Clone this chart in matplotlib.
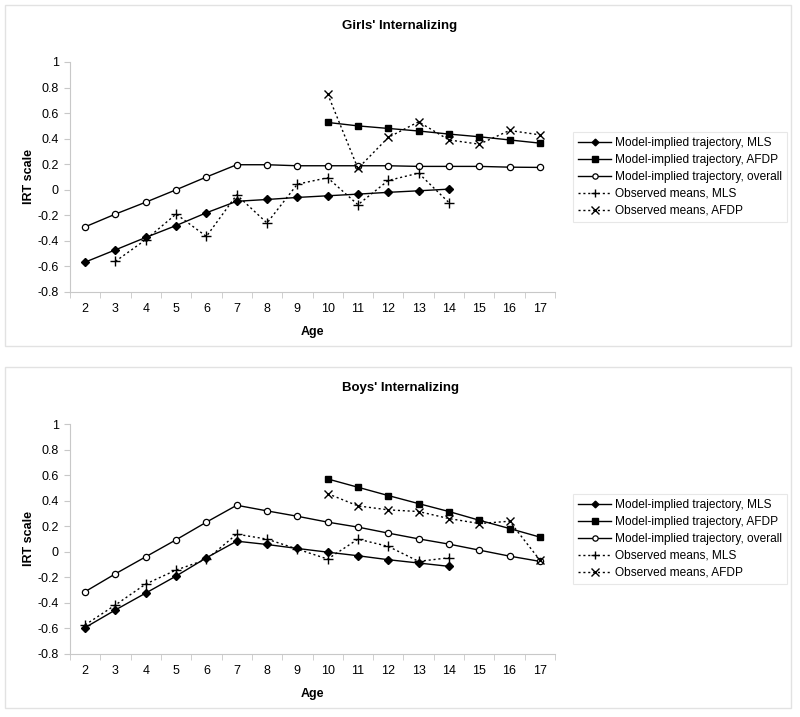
import matplotlib
matplotlib.use("Agg")
import matplotlib.pyplot as plt
from matplotlib.patches import Rectangle

plt.rcParams['font.family'] = ['Liberation Sans', 'DejaVu Sans']

ages = list(range(2, 18))
age_mls = list(range(2, 15))
age_afdp = list(range(10, 18))

# Girls
girls_model_mls = [-0.566, -0.47, -0.373, -0.28, -0.18, -0.09, -0.076, -0.06, -0.047, -0.034, -0.02, -0.008, 0.005]
girls_model_afdp = [0.527, 0.50, 0.48, 0.46, 0.436, 0.415, 0.39, 0.365]
girls_model_all = [-0.29, -0.19, -0.097, 0.0, 0.10, 0.196, 0.196, 0.188, 0.188, 0.188, 0.188, 0.183, 0.183, 0.183, 0.177, 0.175]
girls_obs_mls = [None, -0.56, -0.39, -0.19, -0.365, -0.04, -0.26, 0.044, 0.094, -0.117, 0.073, 0.13, -0.10]
girls_obs_afdp = [0.75, 0.167, 0.41, 0.532, 0.39, 0.357, 0.464, 0.43]

# Boys
boys_model_mls = [-0.593, -0.455, -0.323, -0.19, -0.047, 0.083, 0.057, 0.026, -0.003, -0.031, -0.062, -0.088, -0.114]
boys_model_afdp = [0.57, 0.505, 0.44, 0.377, 0.315, 0.247, 0.182, 0.115]
boys_model_all = [-0.312, -0.172, -0.039, 0.094, 0.232, 0.364, 0.32, 0.278, 0.232, 0.193, 0.146, 0.101, 0.06, 0.013, -0.034, -0.075]
boys_obs_mls = [-0.572, -0.416, -0.252, -0.143, -0.06, 0.138, 0.099, 0.021, -0.057, 0.099, 0.042, -0.075, -0.047]
boys_obs_afdp = [0.455, 0.359, 0.328, 0.315, 0.26, 0.221, 0.239, -0.065]

labels = ["Model-implied trajectory, MLS", "Model-implied trajectory, AFDP",
          "Model-implied trajectory, overall", "Observed means, MLS",
          "Observed means, AFDP"]

W, H = 800, 717
fig = plt.figure(figsize=(W / 100, H / 100), dpi=100)


def draw_panel(top, title, m_mls, m_afdp, m_all, o_mls, o_afdp):
    # panel border
    fig.patches.append(Rectangle((5 / W, 1 - (top + 341) / H), 786 / W, 341 / H,
                                 transform=fig.transFigure, fill=False,
                                 edgecolor="#e2e2e2", lw=1))
    fig.text(400 / W, 1 - (top + 21) / H, title, ha="center", va="center",
             fontsize=9.5, fontweight="bold")

    ax = fig.add_axes([70 / W, 1 - (top + 287) / H, 485 / W, 230 / H])
    lw = 1.0
    ax.plot(age_mls, m_mls, color="black", lw=lw, marker="D", ms=4, label=labels[0])
    ax.plot(age_afdp, m_afdp, color="black", lw=lw, marker="s", ms=4.5, label=labels[1])
    ax.plot(ages, m_all, color="black", lw=lw, marker="o", ms=4.5, mfc="white",
            mew=0.9, label=labels[2])
    xs = [a for a, v in zip(age_mls, o_mls) if v is not None]
    ys = [v for v in o_mls if v is not None]
    ax.plot(xs, ys, color="black", lw=lw, ls=(0, (1.5, 2)), marker="+", ms=7,
            mew=1, label=labels[3])
    ax.plot(age_afdp, o_afdp, color="black", lw=lw, ls=(0, (1.5, 2)), marker="x",
            ms=6, mew=1, label=labels[4])

    ax.set_xlim(1.5, 17.5)
    ax.set_ylim(-0.8, 1.0)
    ax.set_xticks(ages)
    ax.set_xticks([a + 0.5 for a in range(1, 18)], minor=True)
    ax.set_yticks([-0.8, -0.6, -0.4, -0.2, 0, 0.2, 0.4, 0.6, 0.8, 1])
    ax.set_yticklabels(["-0.8", "-0.6", "-0.4", "-0.2", "0", "0.2", "0.4", "0.6", "0.8", "1"])
    ax.tick_params(axis="x", which="major", length=0, pad=8, labelsize=9)
    ax.tick_params(axis="x", which="minor", length=4, color="#c8c8c8", direction="out")
    ax.tick_params(axis="y", length=4, color="#c8c8c8", labelsize=9, pad=4)
    for s in ["top", "right"]:
        ax.spines[s].set_visible(False)
    for s in ["left", "bottom"]:
        ax.spines[s].set_color("#c8c8c8")
    ax.set_xlabel("Age", fontsize=9, fontweight="bold", labelpad=8)
    ax.set_ylabel("IRT scale", fontsize=9, fontweight="bold", labelpad=2)

    leg = ax.legend(loc="upper left", bbox_to_anchor=(573 / W, 1 - (top + 127) / H),
                    bbox_transform=fig.transFigure, fontsize=8.6, frameon=True,
                    fancybox=False, edgecolor="#e2e2e2", handlelength=2.8,
                    handletextpad=0.3, labelspacing=0.42, borderpad=0.4,
                    borderaxespad=0, markerscale=0.85)
    leg.get_frame().set_linewidth(0.8)
    return ax


draw_panel(5, "Girls' Internalizing", girls_model_mls, girls_model_afdp,
           girls_model_all, girls_obs_mls, girls_obs_afdp)
draw_panel(367, "Boys' Internalizing", boys_model_mls, boys_model_afdp,
           boys_model_all, boys_obs_mls, boys_obs_afdp)

fig.savefig("out.png", dpi=100)
